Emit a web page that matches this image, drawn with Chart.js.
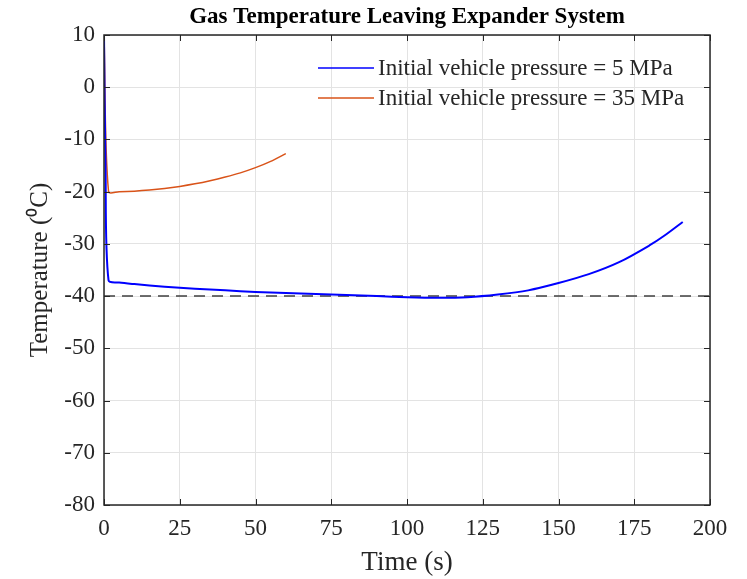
<!DOCTYPE html>
<html>
<head>
<meta charset="utf-8">
<script src="https://cdn.jsdelivr.net/npm/chart.js@4.4.0/dist/chart.umd.min.js"></script>
<style>
  html, body { margin: 0; padding: 0; background: #fff; }
  #wrap { width: 747px; height: 579px; position: relative; }
</style>
</head>
<body>
<div id="wrap"><canvas id="myChart"></canvas></div>
<script>
// data
var time5 = [0, 0.5, 1.5, 5, 10, 20, 30, 40, 50, 60, 70, 80, 90, 100, 110, 120, 130, 140, 150, 160, 170, 180, 185, 191];
var temp5 = [10, -15, -37, -37.4, -37.7, -38.2, -38.6, -38.9, -39.2, -39.4, -39.6, -39.8, -40, -40.2, -40.3, -40.2, -39.7, -38.9, -37.5, -35.8, -33.5, -30.3, -28.4, -25.8];
var time35 = [0, 1.5, 5, 10, 15, 20, 25, 30, 35, 40, 45, 50, 55, 60];
var temp35 = [10, -20, -20, -19.9, -19.7, -19.4, -19.0, -18.5, -17.9, -17.2, -16.4, -15.4, -14.2, -12.7];
var limitTime = [0, 200];
var limitTemp = [-40, -40];
var seriesNames = ["Initial vehicle pressure = 5 MPa", "Initial vehicle pressure = 35 MPa"];
var chartTitle = "Gas Temperature Leaving Expander System";

function toPoints(xs, ys) {
  return xs.map((x, i) => ({ x: x, y: ys[i] }));
}

var serif = "'Liberation Serif', 'Times New Roman', serif";

// box, inward ticks, title and legend drawn matlab style
const boxPlugin = {
  id: "boxPlugin",
  afterDatasetsDraw(chart) {
    const ctx = chart.ctx;
    const a = chart.chartArea;
    const xs = chart.scales.x, ys = chart.scales.y;
    ctx.save();
    ctx.strokeStyle = "#262626";
    ctx.lineWidth = 1;
    ctx.beginPath();
    xs.ticks.forEach(t => {
      let px = Math.round(xs.getPixelForValue(t.value)) + 0.5;
      ctx.moveTo(px, a.bottom); ctx.lineTo(px, a.bottom - 6);
      ctx.moveTo(px, a.top); ctx.lineTo(px, a.top + 6);
    });
    ys.ticks.forEach(t => {
      let py = Math.round(ys.getPixelForValue(t.value)) + 0.5;
      ctx.moveTo(a.left, py); ctx.lineTo(a.left + 6, py);
      ctx.moveTo(a.right, py); ctx.lineTo(a.right - 6, py);
    });
    ctx.stroke();
    ctx.lineWidth = 1.5;
    ctx.strokeRect(a.left, a.top, a.right - a.left, a.bottom - a.top);

    // title centred over the plot
    ctx.fillStyle = "#000";
    ctx.font = "bold 23px " + serif;
    ctx.textAlign = "center";
    ctx.textBaseline = "middle";
    ctx.fillText(chartTitle, (a.left + a.right) / 2, 17);

    // legend
    ctx.textAlign = "left";
    ctx.font = "23px " + serif;
    ctx.fillStyle = "#262626";
    let lx = a.left + 214, ly = a.top + 33;
    chart.data.datasets.slice(0, 2).forEach((ds, i) => {
      let yy = ly + i * 30;
      ctx.strokeStyle = ds.borderColor;
      ctx.lineWidth = 1.5;
      ctx.beginPath();
      ctx.moveTo(lx, yy); ctx.lineTo(lx + 56, yy);
      ctx.stroke();
      ctx.fillText(ds.label, lx + 60, yy + 1);
    });
    ctx.restore();
  }
};

var ctx = document.getElementById("myChart");
var chart = new Chart(ctx, {
  type: "line",
  data: {
    datasets: [
      {
        label: seriesNames[0],
        data: toPoints(time5, temp5),
        borderColor: "#0000FF",
        borderWidth: 2,
        pointRadius: 0,
        tension: 0.3,
        fill: false
      },
      {
        label: seriesNames[1],
        data: toPoints(time35, temp35),
        borderColor: "#D95319",
        borderWidth: 1.5,
        pointRadius: 0,
        tension: 0.3,
        fill: false
      },
      {
        label: "limit",
        data: toPoints(limitTime, limitTemp),
        borderColor: "#404040",
        borderWidth: 1.5,
        borderDash: [11, 7],
        pointRadius: 0,
        fill: false
      }
    ]
  },
  options: {
    responsive: true,
    maintainAspectRatio: false,
    animation: false,
    layout: { padding: { top: 35, right: 37, bottom: 0, left: 0 } },
    plugins: {
      legend: { display: false },
      tooltip: { enabled: false },
      title: { display: false }
    },
    scales: {
      x: {
        type: "linear",
        min: 0,
        max: 200,
        ticks: {
          stepSize: 25,
          color: "#262626",
          font: { family: serif, size: 23 },
          padding: 10,
          maxRotation: 0
        },
        grid: { color: "#e3e3e3", drawTicks: false },
        border: { display: false },
        title: {
          display: true,
          text: "Time (s)",
          color: "#262626",
          font: { family: serif, size: 27 },
          padding: { top: 0, bottom: 0 }
        },
        afterFit(scale) { scale.height = 74; }
      },
      y: {
        min: -80,
        max: 10,
        ticks: {
          stepSize: 10,
          color: "#262626",
          font: { family: serif, size: 23 },
          padding: 9
        },
        grid: { color: "#e3e3e3", drawTicks: false },
        border: { display: false },
        title: {
          display: true,
          text: "Temperature (\u2070C)",
          color: "#262626",
          font: { family: serif, size: 25 },
          padding: { top: 25, bottom: 4 }
        },
        afterFit(scale) { scale.width = 104; }
      }
    }
  },
  plugins: [boxPlugin]
});
</script>
</body>
</html>
